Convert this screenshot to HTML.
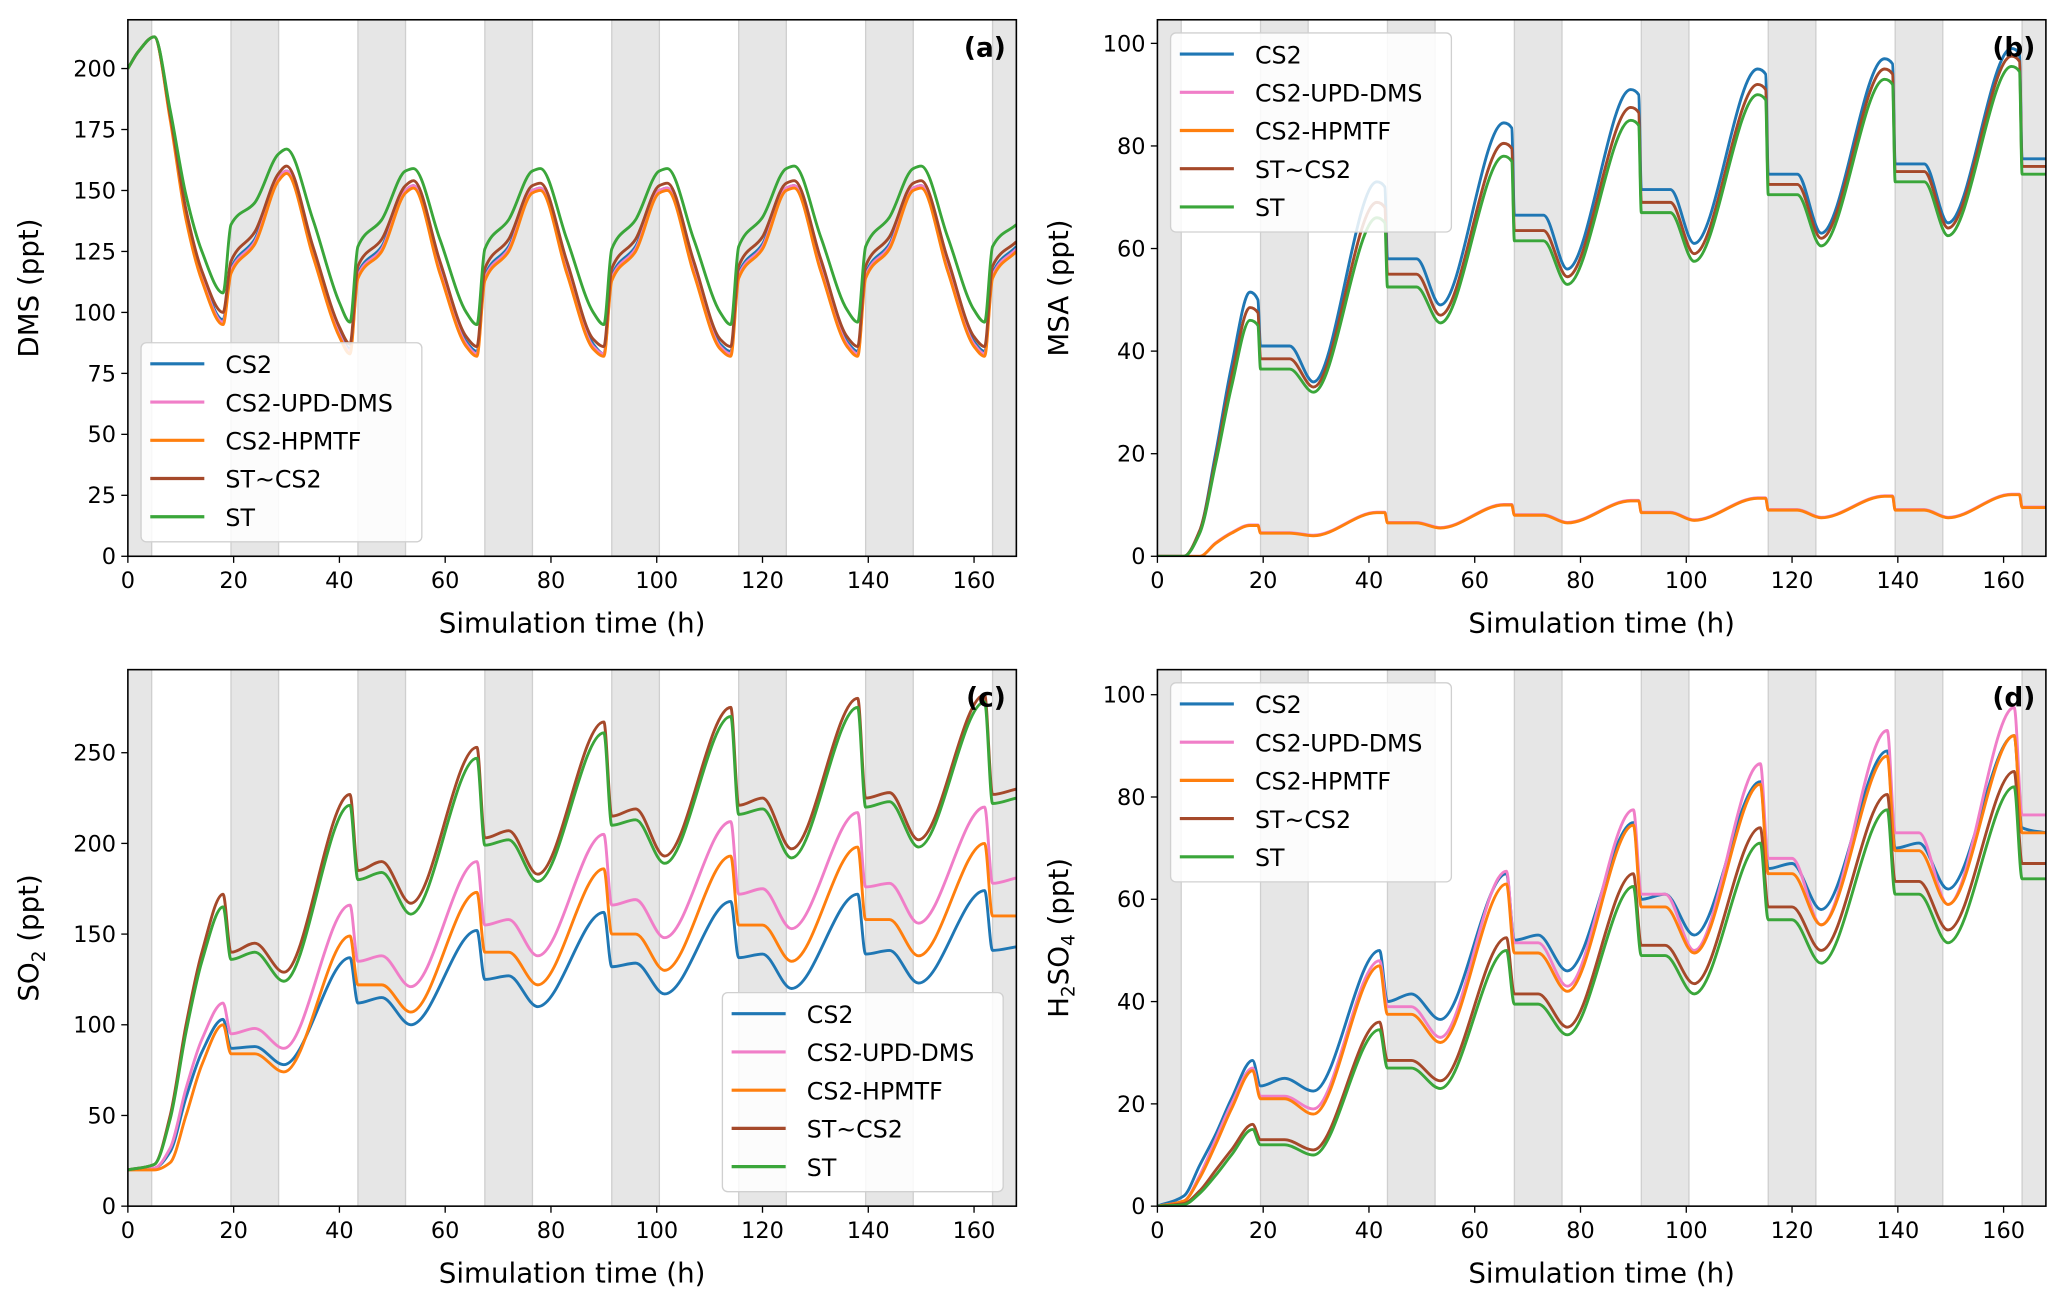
<!DOCTYPE html>
<html><head><meta charset="utf-8"><title>Sulfur species simulation</title>
<style>
html,body{margin:0;padding:0;background:#fff;}
svg{display:block;font-family:"DejaVu Sans","Liberation Sans",sans-serif;}
</style></head>
<body>
<svg id="fig" width="2067" height="1307" viewBox="0 0 1568 991.5" preserveAspectRatio="none" xmlns="http://www.w3.org/2000/svg"></svg>
<script>
// ---------- data ----------
const seriesNames = ["CS2","CS2-UPD-DMS","CS2-HPMTF","ST~CS2","ST"];
const seriesColors = ["#1f77b4","#f07ec8","#ff7f0e","#a5492a","#3aa63a"];

const tA = [0,2,5,8,11,14,18, 19.5,24,28.5,30,35,40,42, 43.5,48,52.5,54,59,64,66, 67.5,72,76.5,78,83,88,90, 91.5,96,100.5,102,107,112,114, 115.5,120,124.5,126,131,136,138, 139.5,144,148.5,150,155,160,162, 163.5,168];
const dmsCS2 = [200,207,213,180,140,115,97, 118,130,155,158,125,92,85, 116,127,150,152,118,88,84, 115,127,150,151,118,87,83, 115,127,150,151,118,87,84, 116,128,151,152,119,88,84, 116,128,151,152,119,88,84, 116,127];
const dmsUPD = [200,207,213,180,139,114,96, 117,129,155,158,124,91,84, 115,126,150,152,117,87,83, 114,126,150,151,117,86,83, 114,126,150,151,117,86,83, 115,127,151,152,118,87,83, 115,127,151,152,118,87,83, 115,126];
const dmsHPMTF = [200,207,213,179,138,113,95, 116,128,154,157,123,90,83, 114,125,149,151,116,86,82, 113,125,149,150,116,85,82, 113,125,149,150,116,85,82, 114,126,150,151,117,86,82, 114,126,150,151,117,86,82, 114,125];
const dmsSTCS2 = [200,207,213,181,142,117,100, 121,133,157,160,127,94,87, 119,130,152,154,121,90,86, 118,130,152,153,121,89,86, 118,130,152,153,121,89,86, 119,131,153,154,122,90,86, 119,131,153,154,122,90,86, 119,129];
const dmsST = [200,207,213,183,148,125,108, 136,145,165,167,138,104,96, 127,138,158,159,130,100,95, 126,138,158,159,130,100,95, 126,138,158,159,130,100,95, 127,139,159,160,131,101,96, 127,139,159,160,131,101,96, 127,136];

const tB = [0,5,8,11,14,17.5,19,19.5,25,29.5, 41.5,43,43.5,49,53.5, 65.5,67,67.5,73,77.5, 89.5,91,91.5,97,101.5, 113.5,115,115.5,121,125.5, 137.5,139,139.5,145,149.5, 161.5,163,163.5,168];
const msaCS2 = [0,0,5,20,37,51.5,50,41,41,34, 73,72,58,58,49, 84.5,83.5,66.5,66.5,56, 91,90,71.5,71.5,61, 95,94,74.5,74.5,63, 97,96,76.5,76.5,65, 99,98,77.5,77.5];
const msaUPD = [0,0,0,2.6,4.6,6.1,6.1,4.6,4.6,4.1, 8.6,8.6,6.6,6.6,5.6, 10.1,10.1,8.1,8.1,6.6, 10.9,10.9,8.6,8.6,7.1, 11.4,11.4,9.1,9.1,7.6, 11.8,11.8,9.1,9.1,7.6, 12.1,12.1,9.6,9.6];
const msaHPMTF = [0,0,0,2.5,4.5,6,6,4.5,4.5,4, 8.5,8.5,6.5,6.5,5.5, 10,10,8,8,6.5, 10.8,10.8,8.5,8.5,7, 11.3,11.3,9,9,7.5, 11.7,11.7,9,9,7.5, 12,12,9.5,9.5];
const msaSTCS2 = [0,0,5,19,35,48.5,47.5,38.5,38.5,33, 69,68,55,55,47, 80.5,79.5,63.5,63.5,54.5, 87.5,86.5,69,69,59, 92,91,72.5,72.5,62, 95,94,75,75,64, 97.5,96.5,76,76];
const msaST = [0,0,4.5,18,33,46,45,36.5,36.5,32, 66,65,52.5,52.5,45.5, 78,77,61.5,61.5,53, 85,84,67,67,57.5, 90,89,70.5,70.5,60.5, 93,92,73,73,62.5, 95.5,94.5,74.5,74.5];

const tC = [0,5,8,11,14,18,19.5,24,29.5, 42,43.5,48,53.5, 66,67.5,72,77.5, 90,91.5,96,101.5, 114,115.5,120,125.5, 138,139.5,144,149.5, 162,163.5,168];
const so2CS2 = [20,21,30,60,85,103,87,88,78, 137,112,115,100, 152,125,127,110, 162,132,134,117, 168,137,139,120, 172,139,141,123, 174,141,143];
const so2UPD = [20,21,32,65,92,112,95,98,87, 166,135,138,121, 190,155,158,138, 205,166,169,148, 212,172,175,153, 217,176,178,156, 220,178,181];
const so2HPMTF = [20,20,24,50,78,100,84,84,74, 149,122,122,107, 173,140,140,122, 186,150,150,130, 193,155,155,135, 198,158,158,138, 200,160,160];
const so2STCS2 = [20,23,50,100,140,172,140,145,129, 227,185,190,167, 253,203,207,183, 267,215,219,193, 275,221,225,197, 280,225,228,202, 282,227,230];
const so2ST = [20,23,48,96,135,165,136,140,124, 221,180,184,161, 247,199,202,179, 261,210,213,189, 270,216,219,192, 275,220,223,198, 278,222,225];

const h2so4CS2 = [0,2,8,14,21,28.5,23.5,25,22.5, 50,40,41.5,36.5, 65,52,53,46, 75,60,61,53, 83,66,67,58, 89,70,71,62, 92,74,73];
const h2so4UPD = [0,1,6,13,20,27,21.5,21.5,19, 48,39,39,33, 65.5,51.5,51.5,43, 77.5,61,61,50, 86.5,68,68,55, 93,73,73,59, 97.5,76.5,76.5];
const h2so4HPMTF = [0,1,5.5,12,19,26.5,21,21,18, 47,37.5,37.5,32, 63,49.5,49.5,42, 74.5,58.5,58.5,49.5, 82.5,65,65,55, 88,69.5,69.5,59, 92,73,73];
const h2so4STCS2 = [0,0.5,3,7,11,16,13,13,11, 36,28.5,28.5,24.5, 52.5,41.5,41.5,35, 65,51,51,43.5, 74,58.5,58.5,50, 80.5,63.5,63.5,54, 85,67,67];
const h2so4ST = [0,0.3,2.5,6,10,15,12,12,10, 34.5,27,27,23, 50,39.5,39.5,33.5, 62.5,49,49,41.5, 71,56,56,47.5, 77.5,61,61,51.5, 82,64,64];

const xTicks = [0,20,40,60,80,100,120,140,160];
const yTicksA = [0,25,50,75,100,125,150,175,200];
const yTicksB = [0,20,40,60,80,100];
const yTicksC = [0,50,100,150,200,250];
const yTicksD = [0,20,40,60,80,100];
const nightStarts = [-4.5,19.5,43.5,67.5,91.5,115.5,139.5,163.5];
const nightLength = 9;

// ---------- drawing ----------
const NS = "http://www.w3.org/2000/svg";
const svg = document.getElementById("fig");
function mk(tag, attrs, parent) {
  const e = document.createElementNS(NS, tag);
  for (const k in attrs) e.setAttribute(k, attrs[k]);
  (parent || svg).appendChild(e);
  return e;
}
// monotone cubic path through pixel points
function monoPath(P) {
  const n = P.length;
  const dx = [], m = [];
  for (let i = 0; i < n - 1; i++) { dx.push(P[i+1][0]-P[i][0]); m.push((P[i+1][1]-P[i][1]) / (P[i+1][0]-P[i][0])); }
  const t = new Array(n);
  t[0] = m[0]; t[n-1] = m[n-2];
  for (let i = 1; i < n - 1; i++) {
    if (m[i-1] * m[i] <= 0) t[i] = 0;
    else {
      const w1 = 2*dx[i] + dx[i-1], w2 = dx[i] + 2*dx[i-1];
      t[i] = (w1 + w2) / (w1 / m[i-1] + w2 / m[i]);
    }
  }
  let d = "M" + P[0][0].toFixed(2) + "," + P[0][1].toFixed(2);
  for (let i = 0; i < n - 1; i++) {
    const h = dx[i] / 3;
    d += "C" + (P[i][0]+h).toFixed(2) + "," + (P[i][1]+t[i]*h).toFixed(2) + " " +
         (P[i+1][0]-h).toFixed(2) + "," + (P[i+1][1]-t[i+1]*h).toFixed(2) + " " +
         P[i+1][0].toFixed(2) + "," + P[i+1][1].toFixed(2);
  }
  return d;
}

const panels = [
  {id:"a", L:97, R:771, T:15, B:422, ymax:220, ticks:yTicksA, t:tA, ys:[dmsCS2,dmsUPD,dmsHPMTF,dmsSTCS2,dmsST], ylabel:"DMS (ppt)", legend:[107,260]},
  {id:"b", L:878, R:1552, T:15, B:422, ymax:104.6, ticks:yTicksB, t:tB, ys:[msaCS2,msaUPD,msaHPMTF,msaSTCS2,msaST], ylabel:"MSA (ppt)", legend:[888,25]},
  {id:"c", L:97, R:771, T:508, B:915, ymax:295.8, ticks:yTicksC, t:tC, ys:[so2CS2,so2UPD,so2HPMTF,so2STCS2,so2ST], ylabel:"SO2", legend:[548,753]},
  {id:"d", L:878, R:1552, T:508, B:915, ymax:104.9, ticks:yTicksD, t:tC, ys:[h2so4CS2,h2so4UPD,h2so4HPMTF,h2so4STCS2,h2so4ST], ylabel:"H2SO4", legend:[888,518]}
];

panels.forEach(p => {
  const g = mk("g", {});
  
  
  const xs = v => p.L + (v / 168) * (p.R - p.L);
  const ys = v => p.B - (v / p.ymax) * (p.B - p.T);
  const clipId = "clip" + p.id;
  const cp = mk("clipPath", {id: clipId}, g);
  mk("rect", {x:p.L, y:p.T, width:p.R-p.L, height:p.B-p.T}, cp);

  nightStarts.forEach(s => {
    const x0 = Math.max(0, s), x1 = Math.min(168, s + nightLength);
    const r = mk("rect", {x:xs(x0), y:p.T, width:xs(x1)-xs(x0), height:p.B-p.T, fill:"#e6e6e6", stroke:"#cfcfcf", "stroke-width":1, "clip-path":"url(#"+clipId+")"}, g);
    
    
  });

  p.ys.forEach((arr, si) => {
    const pts = arr.map((v, i) => [xs(p.t[i]), ys(v)]);
    const path = mk("path", {d:monoPath(pts), fill:"none", stroke:seriesColors[si], "stroke-width":2.2, "stroke-linejoin":"round", "clip-path":"url(#"+clipId+")"}, g);
    
    
  });

  const fr = mk("rect", {x:p.L, y:p.T, width:p.R-p.L, height:p.B-p.T, fill:"none", stroke:"#000", "stroke-width":1.2}, g);
  
  

  xTicks.forEach(v => {
    mk("line", {x1:xs(v), x2:xs(v), y1:p.B, y2:p.B+5, stroke:"#000", "stroke-width":1}, g);
    const t = mk("text", {x:xs(v), y:p.B+24, "text-anchor":"middle", "font-size":17, fill:"#000"}, g);
    t.textContent = v;
    
    
  });
  p.ticks.forEach(v => {
    mk("line", {x1:p.L-5, x2:p.L, y1:ys(v), y2:ys(v), stroke:"#000", "stroke-width":1}, g);
    const t = mk("text", {x:p.L-9, y:ys(v)+6, "text-anchor":"end", "font-size":17, fill:"#000"}, g);
    t.textContent = v;
    
    
  });
  const xt = mk("text", {x:(p.L+p.R)/2, y:p.B+58, "text-anchor":"middle", "font-size":21, fill:"#000"}, g);
  xt.textContent = "Simulation time (h)";
  
  
  const cx = p.L - 68, cy = (p.T + p.B) / 2;
  const yt = mk("text", {x:cx, y:cy, "text-anchor":"middle", "font-size":21, fill:"#000", transform:"rotate(-90 "+cx+" "+cy+")"}, g);
  if (p.ylabel === "SO2") {
    yt.innerHTML = 'SO<tspan font-size="14" dy="5">2</tspan><tspan dy="-5"> (ppt)</tspan>';
  } else if (p.ylabel === "H2SO4") {
    yt.innerHTML = 'H<tspan font-size="14" dy="5">2</tspan><tspan dy="-5">SO</tspan><tspan font-size="14" dy="5">4</tspan><tspan dy="-5"> (ppt)</tspan>';
  } else {
    yt.textContent = p.ylabel;
  }
  
  
  const pl = mk("text", {x:p.R-8, y:p.T+28, "text-anchor":"end", "font-size":20, "font-weight":"bold", fill:"#000"}, g);
  pl.textContent = "(" + p.id + ")";
  
  

  const lx = p.legend[0], ly = p.legend[1];
  const lg = mk("g", {}, g);
  
  
  mk("rect", {x:lx, y:ly, width:213, height:151, rx:4, fill:"#fff", "fill-opacity":0.85, stroke:"#d0d0d0", "stroke-width":1}, lg);
  seriesNames.forEach((n, i) => {
    const yy = ly + 16 + i * 29;
    const e = mk("g", {}, lg);
    
    
    mk("line", {x1:lx+7, x2:lx+48, y1:yy, y2:yy, stroke:seriesColors[i], "stroke-width":2.4}, e);
    const t = mk("text", {x:lx+64, y:yy+7, "font-size":18, fill:"#000"}, e);
    t.textContent = n;
  });
});
</script>
</body></html>
